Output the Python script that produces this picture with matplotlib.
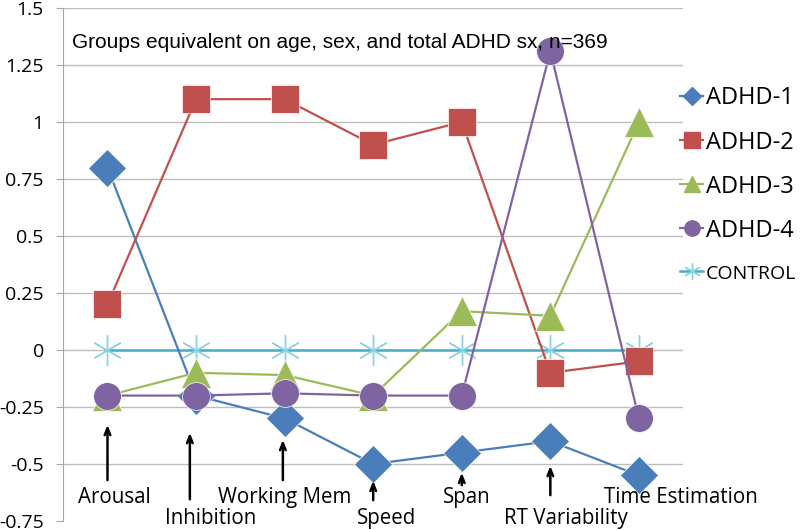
import matplotlib
matplotlib.use("Agg")
import matplotlib.pyplot as plt
from matplotlib.lines import Line2D

# data
categories = ["Arousal", "Inhibition", "Working Mem", "Speed", "Span", "RT Variability", "Time Estimation"]
adhd1 = [0.80, -0.20, -0.30, -0.50, -0.45, -0.40, -0.55]
adhd2 = [0.20, 1.10, 1.10, 0.90, 1.00, -0.10, -0.05]
adhd3 = [-0.20, -0.10, -0.11, -0.20, 0.17, 0.15, 1.00]
adhd4 = [-0.20, -0.20, -0.19, -0.20, -0.20, 1.31, -0.30]
control = [0, 0, 0, 0, 0, 0, 0]
y_ticks = [-0.75, -0.5, -0.25, 0, 0.25, 0.5, 0.75, 1, 1.25, 1.5]
y_tick_labels = ["-0.75", "-0.5", "-0.25", "0", "0.25", "0.5", "0.75", "1", "1.25", "1.5"]
note = "Groups equivalent on age, sex, and total ADHD sx, n=369"

# label layout: (text x, text y, arrow x, arrow tip y, arrow tail y) in data units
label_layout = [
    (0.08, -0.645, 0.0, -0.316, -0.583),
    (1.16, -0.737, 0.93, -0.351, -0.667),
    (2.00, -0.645, 1.98, -0.382, -0.583),
    (3.15, -0.737, 3.0, -0.561, -0.671),
    (4.06, -0.645, 4.0, -0.526, -0.605),
    (5.18, -0.737, 5.0, -0.496, -0.649),
    (6.47, -0.645, None, None, None),
]

series = [
    ("ADHD-1", adhd1, "#4A7EBB", "D", 19, 9),
    ("ADHD-2", adhd2, "#C0504D", "s", 20, 11),
    ("ADHD-3", adhd3, "#9BBB59", "^", 21, 12),
    ("ADHD-4", adhd4, "#8064A2", "o", 20, 11),
]

fig = plt.figure(figsize=(8, 5.3), dpi=100)
ax = fig.add_axes([0.079, 0.017, 0.775, 0.968])
x = list(range(len(categories)))

ax.plot(x, control, color="#4BACC6", linewidth=1.8, marker=(6, 2, 0), markersize=22,
        markeredgecolor="#8AD3E3", markeredgewidth=1.0, zorder=2)
for name, values, color, marker, size, _ in series:
    ax.plot(x, values, color=color, linewidth=1.6, marker=marker, markersize=size,
            markerfacecolor=color, markeredgecolor="white", markeredgewidth=0.5, zorder=3)

ax.set_xlim(-0.5, len(categories) - 0.5)
ax.set_ylim(-0.75, 1.5)
ax.set_yticks(y_ticks)
ax.set_yticklabels(y_tick_labels, fontfamily="Open Sans", fontsize=14)
ax.set_xticks([])
ax.grid(axis="y", color="#BEBEBE", linewidth=1.0)
ax.get_ygridlines()[0].set_visible(False)
ax.set_axisbelow(True)
for side in ("top", "right", "bottom"):
    ax.spines[side].set_visible(False)
ax.spines["left"].set_color("#A6A6A6")
ax.tick_params(axis="y", length=5, color="#A6A6A6", pad=9)

ax.text(-0.4, 1.35, note, fontfamily="Liberation Sans", fontsize=15, va="center", ha="left")

for label, (tx, ty, axx, tip, tail) in zip(categories, label_layout):
    ax.text(tx, ty, label, fontfamily="Open Sans", fontsize=14.8, ha="center", va="center", zorder=5)
    if axx is not None:
        ax.annotate("", xy=(axx, tip), xytext=(axx, tail),
                    arrowprops=dict(arrowstyle="->,head_length=0.5,head_width=0.2", color="black", lw=1.8),
                    zorder=4)

handles = [
    Line2D([], [], color=c, marker=m, markersize=ls, linewidth=1.6, markeredgecolor=c)
    for _, _, c, m, _, ls in series
]
handles.append(Line2D([], [], color="#4BACC6", marker=(6, 2, 0), markersize=12,
                      markeredgecolor="#8AD3E3", linewidth=1.8))
names = [s[0] for s in series] + ["CONTROL"]
leg = fig.legend(handles, names, loc="upper left", bbox_to_anchor=(0.824, 0.877), frameon=False,
                 handlelength=0.97, handletextpad=0.1, labelspacing=0.85,
                 prop={"family": "Open Sans", "size": 17})
leg.get_texts()[-1].set_fontsize(14)

fig.savefig("out.png", dpi=100)
